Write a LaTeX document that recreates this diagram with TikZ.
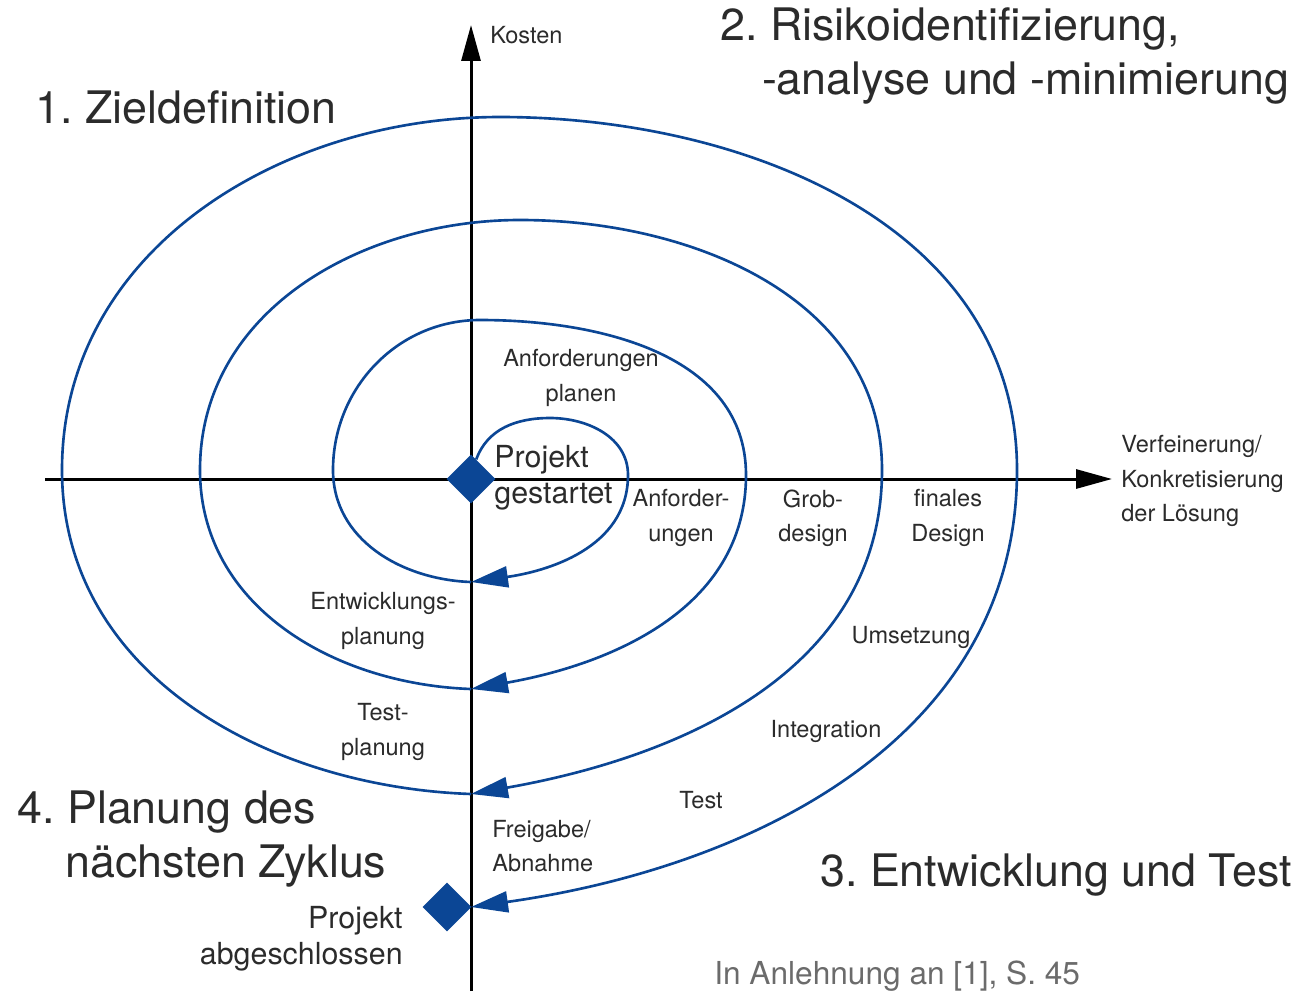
\documentclass[tikz,border=0pt]{standalone}
\usepackage{fontspec}
\setmainfont{TeX Gyre Heros}
\usepackage{tikz}
\usetikzlibrary{arrows.meta,positioning,shapes.geometric}
\frenchspacing
\definecolor{spiralblue}{HTML}{0B4695}
\definecolor{textgray}{HTML}{2B2B2B}
\definecolor{sourcegray}{HTML}{6B6B6B}
\tikzset{
  axis/.style={line width=1.7pt,black,-{Triangle[length=0.72cm,width=0.38cm]}},
  loop/.style={line width=1.5pt,spiralblue,-{Triangle[length=0.74cm,width=0.42cm]}},
  milestone/.style={diamond,fill=spiralblue,inner sep=0pt,minimum width=0.98cm,minimum height=0.98cm},
  lbl/.style={font=\fontsize{13.4}{19.6}\selectfont,text=textgray,align=center,inner sep=0pt},
  midlbl/.style={font=\fontsize{17.3}{20.5}\selectfont,text=textgray,inner sep=0pt},
  phase/.style={font=\fontsize{25.5}{30.5}\selectfont,text=textgray,inner sep=0pt},
  source/.style={font=\fontsize{18}{21}\selectfont,text=sourcegray,inner sep=0pt}
}
\begin{document}
\begin{tikzpicture}[x=0.02cm,y=0.02cm]
  \useasboundingbox (0,0) rectangle (1301,-991);
  \coordinate (xl) at (45,-479);
  \coordinate (xr) at (1112,-479);
  \coordinate (yb) at (471,-991);
  \coordinate (yt) at (471,-25);
  \coordinate (b1) at (471,-582);
  \coordinate (b2) at (471,-689);
  \coordinate (b3) at (471,-794);
  \coordinate (b4) at (471,-907);
  \draw[axis] (xl) -- (xr);
  \draw[axis] (yb) -- (yt);
  \node[milestone] (start) at (471,-479) {};
  \node[milestone] (finish) at (447,-907) {};
  \draw[loop] (start.75) to[out=70,in=180] (550,-418) to[out=0,in=90] (628,-475) to[out=-90,in=8] (b1);
  \draw[loop] (b1) to[out=178,in=-90] (333,-470) to[out=90,in=180] (480,-320) to[out=0,in=90] (746,-475) to[out=-90,in=10] (b2);
  \draw[loop] (b2) to[out=178,in=-90] (200,-470) to[out=90,in=180] (520,-220) to[out=0,in=90] (882,-470) to[out=-90,in=10] (b3);
  \draw[loop] (b3) to[out=178,in=-90] (62,-470) to[out=90,in=180] (500,-117) to[out=0,in=90] (1017,-470) to[out=-90,in=8] (b4);
  \node[lbl,anchor=west] (kosten) at (490,-35) {Kosten};
  \node[lbl,align=left,anchor=west] (loesung) at (1121,-481) {Verfeinerung/\\Konkretisierung\\der Lösung};
  \node[lbl] (anfplan) at (581,-378) {Anforderungen\\planen};
  \node[midlbl,align=left,anchor=west] (gestartet) at (494,-478) {Projekt\\gestartet};
  \node[lbl] (anford) at (681,-518) {Anforder-\\ungen};
  \node[lbl] (grob) at (813,-518) {Grob-\\design};
  \node[lbl] (finales) at (948,-518) {finales\\Design};
  \node[lbl] (entwpl) at (383,-621) {Entwicklungs-\\planung};
  \node[lbl] (umsetz) at (911,-637) {Umsetzung};
  \node[lbl] (testpl) at (383,-732) {Test-\\planung};
  \node[lbl] (integr) at (826,-731) {Integration};
  \node[lbl] (test) at (701,-800) {Test};
  \node[lbl,align=left,anchor=west] (freigabe) at (492,-846) {Freigabe/\\Abnahme};
  \node[midlbl,align=right,anchor=east] (abgeschl) at (403,-939) {Projekt\\abgeschlossen};
  \node[phase,anchor=west] (ziel) at (35,-107) {1. Zieldefinition};
  \node[phase,align=left,anchor=west] (risiko) at (720,-56) {2. Risikoidentifizierung,\\\hspace*{0.93em}-analyse und -minimierung};
  \node[phase,anchor=east] (entwtest) at (1292,-875) {3. Entwicklung und Test};
  \node[phase,align=left,anchor=west] (naechst) at (17,-839) {4. Planung des\\\hspace*{1.07em}nächsten Zyklus};
  \node[source,anchor=west] (quelle) at (714,-976) {In Anlehnung an [1], S. 45};
\end{tikzpicture}
\end{document}
